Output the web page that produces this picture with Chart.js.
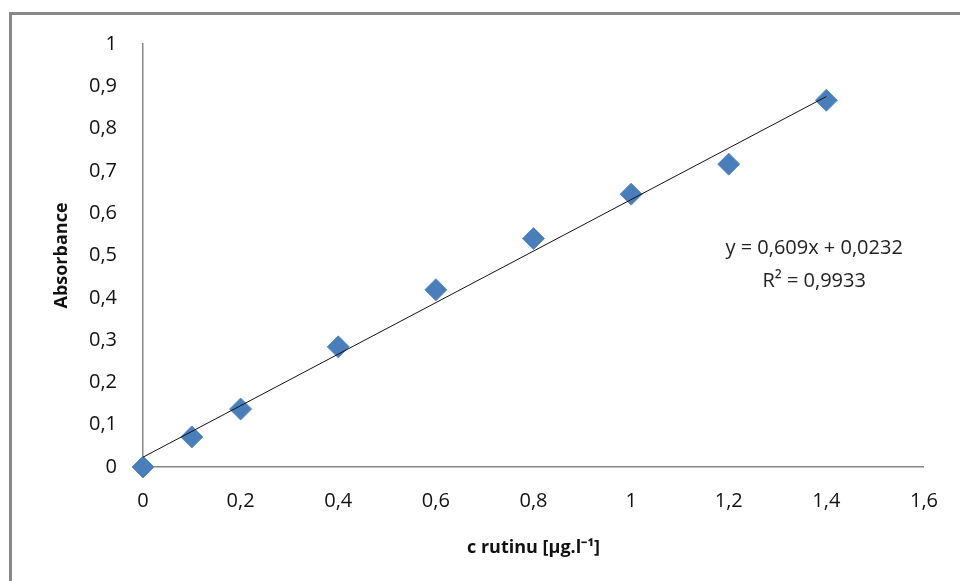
<!DOCTYPE html>
<html>
<head>
<meta charset="utf-8">
<script src="https://cdn.jsdelivr.net/npm/chart.js@4/dist/chart.umd.min.js"></script>
<style>
  body { margin: 0; background: #fff; }
  #frame { position: absolute; left: 9px; top: 12px; right: 0; bottom: 0; border-left: 3px solid #878787; border-top: 3px solid #878787; }
  #chart { position: absolute; left: 0; top: 0; }
</style>
</head>
<body>
<div id="frame"></div>
<canvas id="chart" width="960" height="581"></canvas>
<script>
  // measured points: concentration of rutin vs absorbance
  var concentration = [0, 0.1, 0.2, 0.4, 0.6, 0.8, 1.0, 1.2, 1.4];
  var absorbance = [0, 0.071, 0.137, 0.284, 0.419, 0.540, 0.645, 0.716, 0.867];

  // linear trendline as printed on the chart
  var slope = 0.609;
  var intercept = 0.0232;
  var trendRange = [0, 1.4];
  var equationLines = ['y = 0,609x + 0,0232', 'R\u00b2 = 0,9933'];

  var xTitle = 'c rutinu [\u00b5g.l\u207b\u00b9]';
  var yTitle = 'Absorbance';

  var points = concentration.map(function(c, i) { return { x: c, y: absorbance[i] }; });
  var trend = trendRange.map(function(c) { return { x: c, y: slope * c + intercept }; });

  var fmt = function(v) {
    return String(Math.round(v * 10) / 10).replace('.', ',');
  };

  var equationPlugin = {
    id: 'equation',
    afterDatasetsDraw: function(chart) {
      var ctx = chart.ctx;
      var xs = chart.scales.x, ys = chart.scales.y;
      var cx = xs.getPixelForValue(1.375);
      var cy = ys.getPixelForValue(0.517);
      ctx.save();
      ctx.fillStyle = '#222';
      ctx.font = '20px "Open Sans"';
      ctx.textAlign = 'center';
      ctx.textBaseline = 'middle';
      ctx.fillText(equationLines[0], cx, cy);
      ctx.fillText(equationLines[1], cx, cy + 33);
      ctx.restore();
    }
  };

  new Chart(document.getElementById('chart').getContext('2d'), {
    type: 'scatter',
    data: {
      datasets: [
        {
          data: trend,
          showLine: true,
          borderColor: '#111',
          borderWidth: 1,
          pointRadius: 0,
          fill: false,
          clip: false,
          order: 0
        },
        {
          data: points,
          pointStyle: 'rectRot',
          pointRadius: 11,
          pointBackgroundColor: '#4a7ebb',
          pointBorderColor: '#5b8cc6',
          pointBorderWidth: 1,
          clip: false,
          order: 1
        }
      ]
    },
    options: {
      responsive: false,
      animation: false,
      layout: { padding: { left: 0, top: 44, right: 34, bottom: 0 } },
      plugins: { legend: { display: false }, tooltip: { enabled: false } },
      scales: {
        x: {
          type: 'linear',
          min: 0,
          max: 1.6,
          grid: { display: false, drawTicks: false },
          border: { display: true, color: '#878787', width: 1.5 },
          ticks: { stepSize: 0.2, padding: 22, color: '#111', font: { family: 'Open Sans', size: 20 }, callback: fmt },
          title: { display: true, text: xTitle, color: '#111', padding: { top: 0, bottom: 22 }, font: { family: 'Open Sans', size: 18, weight: 'bold' } },
          afterFit: function(scale) { scale.height = 114; }
        },
        y: {
          type: 'linear',
          min: 0,
          max: 1,
          grid: { display: false, drawTicks: false },
          border: { display: true, color: '#878787', width: 1.5 },
          ticks: { stepSize: 0.1, padding: 26, color: '#111', font: { family: 'Open Sans', size: 20 }, callback: fmt },
          title: { display: true, text: yTitle, color: '#111', padding: { top: 51, bottom: 0 }, font: { family: 'Open Sans', size: 18, weight: 'bold' } },
          afterFit: function(scale) { scale.width = 143; }
        }
      }
    },
    plugins: [equationPlugin]
  });
</script>
</body>
</html>
